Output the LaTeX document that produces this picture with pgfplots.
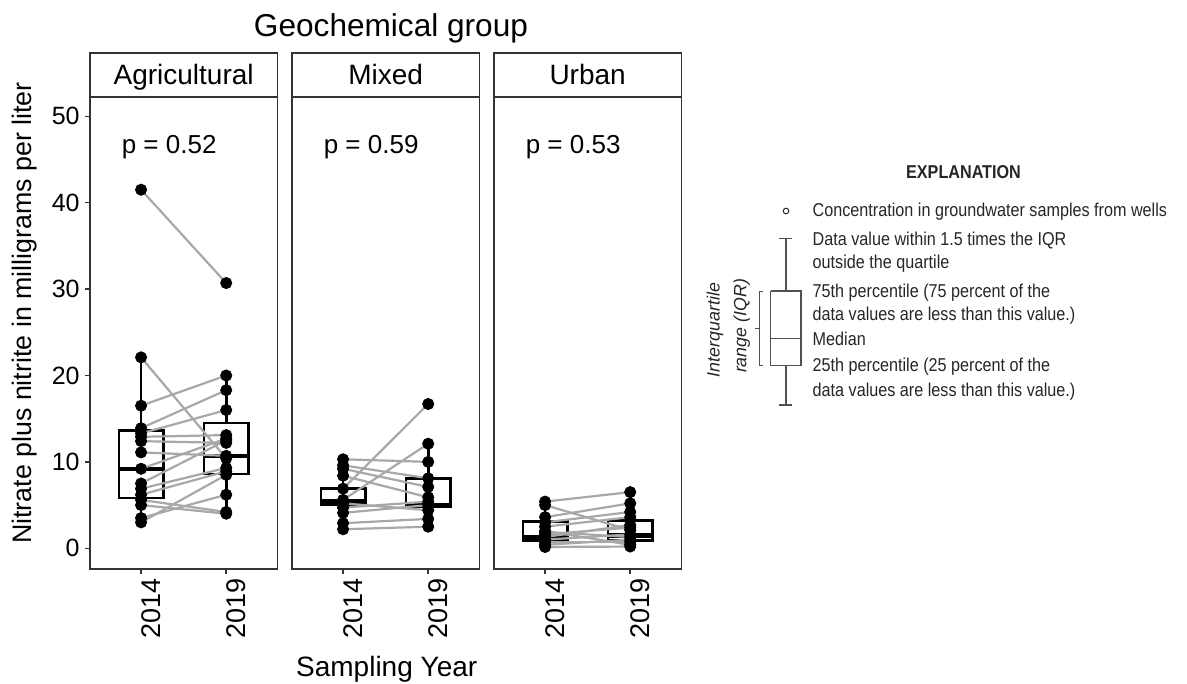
\documentclass[border=0pt]{standalone}
\usepackage{fontspec}
\setmainfont{Liberation Sans}
\newfontfamily\legfont{Liberation Sans}[FakeStretch=0.87]
\usepackage{pgfplots}
\pgfplotsset{compat=1.18}
\usepackage{pgfplotstable}
\usepgfplotslibrary{statistics}

\definecolor{lg}{HTML}{A8A8A8}
\definecolor{frame}{HTML}{333333}
\definecolor{legc}{HTML}{262626}

\pgfplotstableread{
a b
41.5 30.7
22.1 10.4
16.5 20.0
13.9 18.3
13.3 16.0
12.9 13.1
12.4 12.2
11.1 10.7
9.2 12.7
7.5 12.5
6.9 9.3
6.2 8.9
5.6 4.2
5.0 4.0
3.5 6.2
3.0 8.5
}\agri

\pgfplotstableread{
a b
10.3 10.0
9.6 8.1
9.2 7.1
8.4 5.9
6.9 16.7
5.6 12.1
5.2 4.4
4.7 5.4
4.1 5.0
2.9 3.4
2.2 2.5
}\mixed

\pgfplotstableread{
a b
5.4 6.5
5.0 2.1
3.6 5.2
3.0 4.2
2.5 3.6
2.0 0.4
1.9 1.3
1.6 2.4
1.3 2.7
1.0 1.6
0.7 0.7
0.4 1.0
0.15 0.2
}\urban

\pgfplotsset{
  panel/.style={
    anchor=south west, scale only axis, width=93.65pt, height=235.85pt,
    xmin=0.4, xmax=2.6, ymin=-2.4, ymax=52.2,
    xtick={1,2}, xticklabels={2014,2019},
    xtick pos=lower, ytick pos=left,
    axis line style={draw=frame, line width=0.75pt},
    tick style={draw=frame, line width=0.75pt},
    tick align=outside, major tick length=2.5pt,
    xticklabel style={rotate=90, anchor=north east, inner sep=0pt, font=\fontsize{13.5}{13.5}\selectfont},
    xticklabel shift=2pt,
    yticklabel style={inner sep=2.5pt, font=\fontsize{12.5}{12.5}\selectfont},
    /pgf/number format/assume math mode=true,
    boxplot/draw direction=y,
    clip=false,
  },
  bx/.style={draw=black, line width=1.3pt, solid,
    boxplot/every median/.style={line width=2.2pt}},
  pts/.style={only marks, mark=*, mark size=2.8pt, black, mark options={solid, fill=black}},
  pair/.style={draw=lg, line width=1.1pt},
}
\tikzset{
  strip/.style={draw=frame, line width=0.75pt, fill=white, minimum width=93.65pt,
    minimum height=21.65pt, inner sep=0pt, anchor=south, text height=10pt, text depth=0pt,
    font=\fontsize{14}{14}\selectfont},
  plab/.style={anchor=base, font=\fontsize{13}{13}\selectfont},
}

\begin{document}
\begin{tikzpicture}
\useasboundingbox (0pt,0pt) rectangle (593.5pt,-342pt);

% ---------- Agricultural ----------
\begin{axis}[panel, at={(45pt,-284.5pt)}, ytick={0,10,20,30,40,50}]
\addplot[bx, boxplot prepared={draw position=1, lower whisker=3.0, lower quartile=5.8, median=9.2, upper quartile=13.6, upper whisker=22.1, box extend=0.52, whisker extend=0}] coordinates {};
\addplot[bx, boxplot prepared={draw position=2, lower whisker=4.0, lower quartile=8.6, median=10.7, upper quartile=14.5, upper whisker=20.0, box extend=0.52, whisker extend=0}] coordinates {};
\addplot[pair, quiver={u=1, v=\thisrow{b}-\thisrow{a}}] table[x expr=1, y=a] {\agri};
\addplot[pts] table[x expr=1, y=a] {\agri};
\addplot[pts] table[x expr=2, y=b] {\agri};
\node[strip] at (rel axis cs:0.5,1) {Agricultural};
\node[plab] at (axis cs:1.33,45.7) {p = 0.52};
\end{axis}

% ---------- Mixed ----------
\begin{axis}[panel, at={(146pt,-284.5pt)}, ytick=\empty]
\addplot[bx, boxplot prepared={draw position=1, lower whisker=2.2, lower quartile=5.0, median=5.4, upper quartile=6.9, upper whisker=9.6, box extend=0.52, whisker extend=0}] coordinates {};
\addplot[bx, boxplot prepared={draw position=2, lower whisker=2.5, lower quartile=4.8, median=5.0, upper quartile=8.1, upper whisker=12.1, box extend=0.52, whisker extend=0}] coordinates {};
\addplot[pair, quiver={u=1, v=\thisrow{b}-\thisrow{a}}] table[x expr=1, y=a] {\mixed};
\addplot[pts] table[x expr=1, y=a] {\mixed};
\addplot[pts] table[x expr=2, y=b] {\mixed};
\node[strip] at (rel axis cs:0.5,1) {Mixed};
\node[plab] at (axis cs:1.33,45.7) {p = 0.59};
\end{axis}

% ---------- Urban ----------
\begin{axis}[panel, at={(247pt,-284.5pt)}, ytick=\empty]
\addplot[bx, boxplot prepared={draw position=1, lower whisker=0.15, lower quartile=0.9, median=1.3, upper quartile=3.1, upper whisker=5.4, box extend=0.52, whisker extend=0}] coordinates {};
\addplot[bx, boxplot prepared={draw position=2, lower whisker=0.2, lower quartile=0.9, median=1.5, upper quartile=3.2, upper whisker=6.5, box extend=0.52, whisker extend=0}] coordinates {};
\addplot[pair, quiver={u=1, v=\thisrow{b}-\thisrow{a}}] table[x expr=1, y=a] {\urban};
\addplot[pts] table[x expr=1, y=a] {\urban};
\addplot[pts] table[x expr=2, y=b] {\urban};
\node[strip] at (rel axis cs:0.5,1) {Urban};
\node[plab] at (axis cs:1.33,45.7) {p = 0.53};
\end{axis}

% ---------- overlay: titles and explanation ----------
\begin{axis}[at={(0pt,0pt)}, anchor=north west, scale only axis, width=593.5pt, height=342pt,
  xmin=0, xmax=1187, ymin=0, ymax=684, y dir=reverse, hide axis, clip=false]
\node[anchor=base, font=\fontsize{15.8}{15.8}\selectfont] at (axis cs:391,36) {Geochemical group};
\node[anchor=base, font=\fontsize{14}{14}\selectfont] at (axis cs:386.7,676.7) {Sampling Year};
\node[rotate=90, font=\fontsize{13.4}{13.4}\selectfont] at (axis cs:25,313) {Nitrate plus nitrite in milligrams per liter};
% explanation
\node[anchor=base, text=legc, font=\legfont\bfseries\fontsize{9.3}{9.3}\selectfont] at (axis cs:963.5,178.3) {EXPLANATION};
\addplot[only marks, mark=o, mark size=1.4pt, draw=legc, mark options={solid, line width=0.5pt}] coordinates {(786,211)};
\addplot[draw=legc!80, line width=0.6pt] coordinates {(779,238.3)(792.3,238.3)};
\addplot[draw=legc!80, line width=0.6pt] coordinates {(786,238.3)(786,291)};
\addplot[draw=legc!80, line width=0.6pt] coordinates {(770.7,291)(801,291)(801,365.7)(770.7,365.7)(770.7,291)};
\addplot[draw=legc!80, line width=0.6pt] coordinates {(770.7,338.3)(801,338.3)};
\addplot[draw=legc!80, line width=0.6pt] coordinates {(786,365.7)(786,405)};
\addplot[draw=legc!80, line width=0.6pt] coordinates {(779,405)(792.3,405)};
\addplot[draw=legc!80, line width=0.5pt] coordinates {(763.3,291)(759,291)(759,365.7)(763.3,365.7)};
\addplot[draw=legc!80, line width=0.5pt] coordinates {(755,328.3)(759,328.3)};
\node[rotate=90, text=legc, font=\itshape\fontsize{8.9}{8.9}\selectfont] at (axis cs:715,330) {Interquartile};
\node[rotate=90, text=legc, font=\itshape\fontsize{8.9}{8.9}\selectfont] at (axis cs:741.7,326) {range (IQR)};
\begin{scope}[every node/.style={anchor=base west, inner sep=0pt, text=legc, font=\legfont\fontsize{9.3}{9.3}\selectfont}]
\node at (axis cs:812.3,216.7) {Concentration in groundwater samples from wells};
\node at (axis cs:812.3,245) {Data value within 1.5 times the IQR};
\node at (axis cs:812.3,268.3) {outside the quartile};
\node at (axis cs:812.3,297.3) {75th percentile (75 percent of the};
\node at (axis cs:812.3,320) {data values are less than this value.)};
\node at (axis cs:812.3,345) {Median};
\node at (axis cs:812.3,371.7) {25th percentile (25 percent of the};
\node at (axis cs:812.3,396.7) {data values are less than this value.)};
\end{scope}
\end{axis}
\end{tikzpicture}
\end{document}
